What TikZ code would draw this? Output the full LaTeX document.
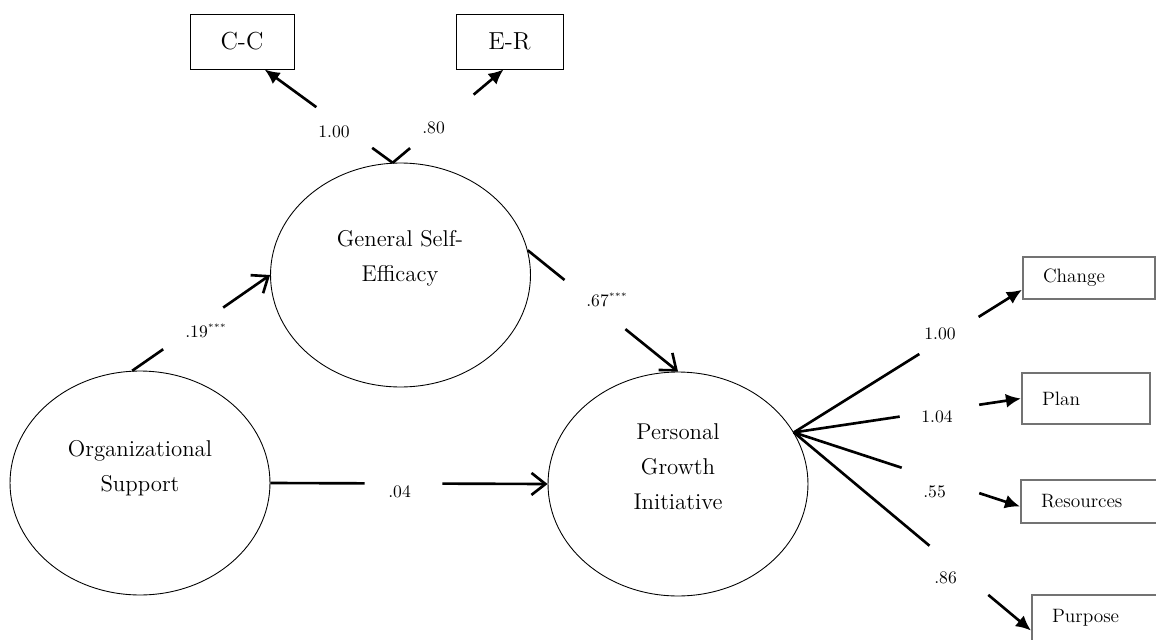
\documentclass[tikz,border=0pt]{standalone}
\usetikzlibrary{arrows.meta,calc,shapes.geometric}
\begin{document}
\begin{tikzpicture}[x=0.02cm,y=-0.02cm,
  latent/.style={draw,ellipse,line width=0.5pt,minimum width=5.2cm,minimum height=4.48cm,inner sep=0pt},
  ltext/.style={align=center,font=\fontsize{13}{20}\selectfont},
  obsbox/.style={draw,line width=0.5pt,minimum height=1.1cm,font=\fontsize{14}{16}\selectfont},
  itembox/.style={draw=black!55,line width=1.2pt,inner xsep=0.4cm,inner ysep=0pt,align=left,font=\fontsize{11}{13}\selectfont},
  coef/.style={anchor=base west,inner sep=0pt,font=\fontsize{10}{12}\selectfont},
  seg/.style={line width=1.5pt},
  effect/.style={line width=1.5pt,-{Straight Barb[length=0.28cm,width=0.44cm]}},
  loading/.style={line width=1.5pt,-{Latex[length=0.3cm,width=0.28cm]}}]
\useasboundingbox (0,0) rectangle (1156,639);
\clip (0,0) rectangle (1156,639);

% latent variables
\node[latent] (os) at (140,483) {};
\node[latent] (gse) at (400.5,275) {};
\node[latent] (pgi) at (678,484) {};
\node[ltext] (ostxt) at (140,468) {Organizational\\Support};
\node[ltext] (gsetxt) at (400,258) {General Self-\\Efficacy};
\node[ltext] (pgitxt) at (678,467) {Personal\\Growth\\Initiative};

% indicators
\node[obsbox,minimum width=2.08cm] (cc) at (242,41.5) {C-C};
\node[obsbox,minimum width=2.14cm] (er) at (509.5,41.5) {E-R};
\node[itembox,text width=1.84cm,minimum height=0.84cm] (chg) at (1089,278) {Change};
\node[itembox,text width=1.76cm,minimum height=1.02cm] (plan) at (1086,398.5) {Plan};
\node[itembox,text width=2cm,minimum height=0.86cm] (res) at (1091,501.5) {Resources};
\node[itembox,text width=2cm,minimum height=0.92cm] (pur) at (1102,618) {Purpose};

% structural paths
\draw[seg] (os.94) -- ($(os.94)!.225!(gse.west)$);
\draw[effect] ($(os.94)!.66!(gse.west)$) -- (gse.west);
\draw[seg] (gse.11) -- ($(gse.11)!.245!(pgi.north)$);
\draw[effect] ($(gse.11)!.65!(pgi.north)$) -- (pgi.north);
\draw[seg] (os.east) -- ($(os.east)!.34!(pgi.west)$);
\draw[effect] ($(os.east)!.62!(pgi.west)$) -- (pgi.west);

% loadings
\draw[seg] (gse.94) -- ($(gse.94)!.16!(cc.-51)$);
\draw[loading] ($(gse.94)!.596!(cc.-51)$) -- (cc.-51);
\draw[seg] (gse.94) -- ($(gse.94)!.157!(er.-102)$);
\draw[loading] ($(gse.94)!.73!(er.-102)$) -- (er.-102);
\draw[seg] (pgi.24) -- ($(pgi.24)!.55!(chg.190)$);
\draw[loading] ($(pgi.24)!.81!(chg.190)$) -- (chg.190);
\draw[seg] (pgi.24) -- ($(pgi.24)!.466!(plan.west)$);
\draw[loading] ($(pgi.24)!.816!(plan.west)$) -- (plan.west);
\draw[seg] (pgi.24) -- ($(pgi.24)!.477!(res.184)$);
\draw[loading] ($(pgi.24)!.82!(res.184)$) -- (res.184);
\draw[seg] (pgi.24) -- ($(pgi.24)!.572!(pur.190)$);
\draw[loading] ($(pgi.24)!.82!(pur.190)$) -- (pur.190);

% coefficients
\node[coef] (b19) at (185,337) {.19\textsuperscript{\tiny***}};
\node[coef] (b67) at (586,306) {.67\textsuperscript{\tiny***}};
\node[coef] (b04) at (388,497) {.04};
\node[coef] (lcc) at (318,137) {1.00};
\node[coef] (ler) at (422,133) {.80};
\node[coef] (lchg) at (924,339) {1.00};
\node[coef] (lplan) at (921,422) {1.04};
\node[coef] (lres) at (923,497) {.55};
\node[coef] (lpur) at (934,583) {.86};
\end{tikzpicture}
\end{document}
